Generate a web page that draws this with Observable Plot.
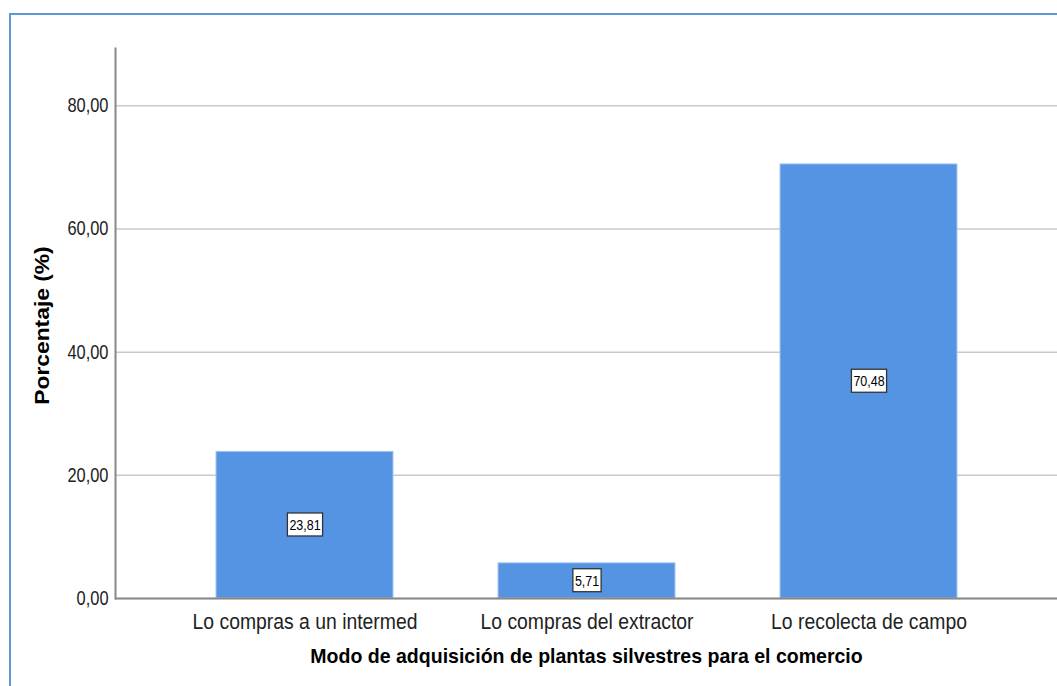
<!DOCTYPE html>
<html><head><meta charset="utf-8">
<script src="https://cdn.jsdelivr.net/npm/d3@7"></script>
<script src="https://cdn.jsdelivr.net/npm/@observablehq/plot@0.6"></script>
<style>
body{margin:0;background:#fff;}
#wrap{position:relative;width:1057px;height:686px;overflow:hidden;}
#border{position:absolute;left:9px;top:13px;width:1100px;height:700px;border-top:2px solid #5b9bd5;border-left:2px solid #5b9bd5;}
#chart{position:absolute;left:0;top:0;}
</style></head><body>
<div id="wrap"><div id="border"></div><div id="chart"></div></div>
<script>
const categories = ["Lo compras a un intermed", "Lo compras del extractor", "Lo recolecta de campo"];
const percentages = [23.81, 5.71, 70.48];
const yTicks = [0, 20, 40, 60, 80];
const xTitle = "Modo de adquisición de plantas silvestres para el comercio";
const yTitle = "Porcentaje (%)";

const data = categories.map((c, i) => ({cat: c, val: percentages[i]}));
const fmt = v => v.toFixed(2).replace(".", ",");
const font = "'Liberation Sans', Arial, sans-serif";

const chart = Plot.plot({
  width: 1057, height: 686,
  marginLeft: 115, marginRight: 0, marginTop: 48, marginBottom: 88,
  style: {fontFamily: font, background: "transparent", color: "#222"},
  x: {domain: categories, paddingInner: 0.3735, paddingOuter: 0.354, label: null},
  y: {domain: [0, 89.3], label: null},
  marks: [
    Plot.gridY(yTicks, {stroke: "#cacaca", strokeOpacity: 1, strokeWidth: 1.5}),
    Plot.barY(data, {x: "cat", y: "val", fill: "#5594e3", stroke: "#a5c7f0", strokeWidth: 1}),
    Plot.ruleY([0], {stroke: "#888", strokeWidth: 2}),
    Plot.frame({anchor: "left", stroke: "#888", strokeWidth: 2}),
    Plot.axisY({ticks: yTicks, tickFormat: fmt, tickSize: 0, tickPadding: 7, fontSize: 20, label: null, className: "ytick"}),
    Plot.axisX({tickSize: 0, tickPadding: 15, fontSize: 22, label: null, className: "xtick"}),
    Plot.text(data, {x: "cat", y: d => d.val / 2, text: d => fmt(d.val), fontSize: 15, fill: "#000", className: "vlabel"}),
    Plot.text([xTitle], {frameAnchor: "bottom", dy: 64, text: d => d, fontWeight: "bold", fontSize: 21, fill: "#000", className: "xtitle"}),
    Plot.text([yTitle], {frameAnchor: "left", textAnchor: "middle", dx: -73, dy: 2, rotate: -90, text: d => d, fontWeight: "bold", fontSize: 20, fill: "#000", className: "ytitle"})
  ]
});
document.getElementById("chart").appendChild(chart);

// mimic the horizontally condensed lettering of the original
function squeeze(selector, factor) {
  chart.querySelectorAll(selector).forEach(t => {
    const len = t.getComputedTextLength();
    t.setAttribute("textLength", len * factor);
    t.setAttribute("lengthAdjust", "spacingAndGlyphs");
  });
}
squeeze("g.ytick text", 0.82);
squeeze("g.xtick text", 0.88);
squeeze("g.xtitle text", 0.93);
squeeze("g.ytitle text", 1.14);
squeeze("g.vlabel text", 0.83);

// white boxes behind value labels
chart.querySelectorAll("g.vlabel text").forEach(t => {
  const b = t.getBBox();
  const w = +t.getAttribute("textLength");
  const cx = b.x + b.width / 2;
  const r = document.createElementNS("http://www.w3.org/2000/svg", "rect");
  const tr = t.getAttribute("transform");
  if (tr) r.setAttribute("transform", tr);
  r.setAttribute("x", cx - w / 2 - 2); r.setAttribute("y", b.y - 3);
  r.setAttribute("width", w + 4); r.setAttribute("height", b.height + 6);
  r.setAttribute("fill", "#fff"); r.setAttribute("stroke", "#333"); r.setAttribute("stroke-width", 1.3);
  t.parentNode.insertBefore(r, t);
});
</script>
</body></html>
